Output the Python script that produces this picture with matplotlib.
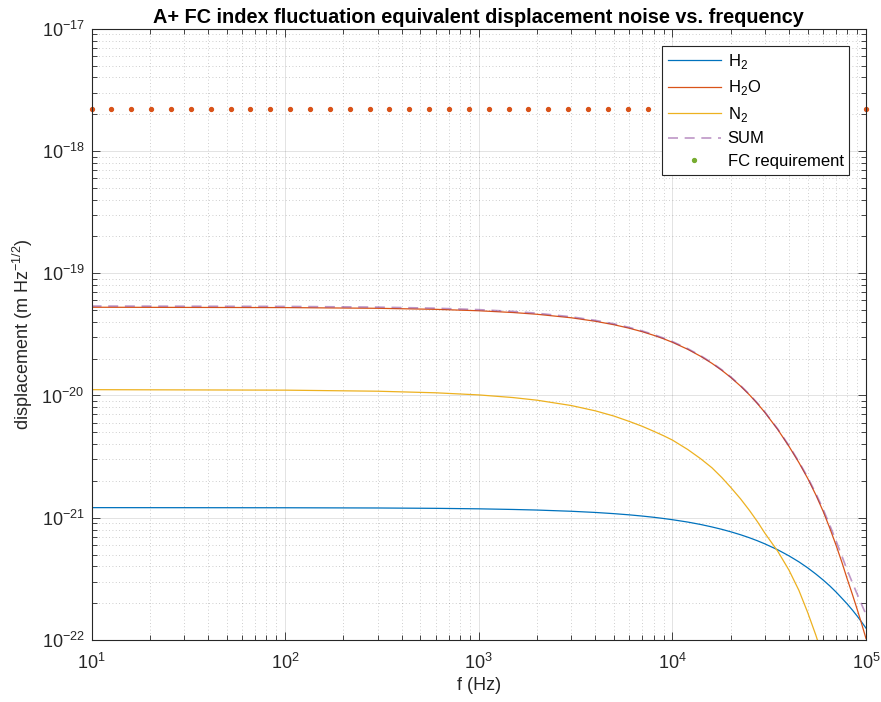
import matplotlib
matplotlib.use('Agg')
from matplotlib import pyplot as plt
from matplotlib.lines import Line2D

freq = [10, 100, 300, 600, 1e3, 1.5e3, 2e3, 3e3, 4e3, 5e3, 6e3, 7e3, 8e3, 9e3,
        1e4, 1.2e4, 1.4e4, 1.6e4, 1.8e4, 2e4, 2.25e4, 2.5e4, 2.75e4, 3e4,
        3.5e4, 4e4, 4.5e4, 5e4, 5.5e4, 6e4, 6.5e4, 7e4, 7.5e4, 8e4, 8.5e4,
        9e4, 9.5e4, 1e5]

h2 = [1.21e-21, 1.207e-21, 1.202e-21, 1.194e-21, 1.183e-21, 1.169e-21, 1.156e-21,
      1.130e-21, 1.105e-21, 1.080e-21, 1.056e-21, 1.032e-21, 1.009e-21, 9.86e-22,
      9.64e-22, 9.22e-22, 8.81e-22, 8.41e-22, 8.04e-22, 7.68e-22, 7.26e-22,
      6.86e-22, 6.48e-22, 6.12e-22, 5.47e-22, 4.88e-22, 4.36e-22, 3.89e-22,
      3.47e-22, 3.10e-22, 2.77e-22, 2.47e-22, 2.20e-22, 1.97e-22, 1.76e-22,
      1.57e-22, 1.40e-22, 1.25e-22]

h2o = [5.27e-20, 5.236e-20, 5.167e-20, 5.066e-20, 4.933e-20, 4.772e-20, 4.617e-20,
       4.323e-20, 4.047e-20, 3.789e-20, 3.547e-20, 3.321e-20, 3.109e-20, 2.910e-20,
       2.725e-20, 2.387e-20, 2.091e-20, 1.833e-20, 1.606e-20, 1.407e-20, 1.193e-20,
       1.012e-20, 8.58e-21, 7.28e-21, 5.27e-21, 3.837e-21, 2.829e-21, 2.096e-21,
       1.543e-21, 1.133e-21, 8.22e-22, 5.97e-22, 4.34e-22, 3.15e-22, 2.366e-22,
       1.784e-22, 1.351e-22, 1.027e-22]

n2 = [1.116e-20, 1.106e-20, 1.084e-20, 1.052e-20, 1.011e-20, 9.62e-21, 9.15e-21,
      8.28e-21, 7.49e-21, 6.78e-21, 6.13e-21, 5.59e-21, 5.10e-21, 4.69e-21,
      4.32e-21, 3.616e-21, 3.038e-21, 2.564e-21, 2.133e-21, 1.774e-21, 1.426e-21,
      1.148e-21, 9.28e-22, 7.50e-22, 5.32e-22, 3.73e-22, 2.55e-22, 1.675e-22,
      1.101e-22, 7.23e-23, 4.75e-23, 3.12e-23, 2.05e-23, 1.35e-23, 8.8e-24,
      5.8e-24, 3.8e-24, 2.5e-24]

total = [5.388e-20, 5.353e-20, 5.281e-20, 5.175e-20, 5.037e-20, 4.869e-20, 4.708e-20,
         4.403e-20, 4.117e-20, 3.851e-20, 3.601e-20, 3.369e-20, 3.152e-20, 2.949e-20,
         2.761e-20, 2.416e-20, 2.115e-20, 1.853e-20, 1.622e-20, 1.420e-20, 1.204e-20,
         1.021e-20, 8.65e-21, 7.34e-21, 5.32e-21, 3.886e-21, 2.874e-21, 2.138e-21,
         1.586e-21, 1.177e-21, 8.69e-22, 6.47e-22, 4.87e-22, 3.72e-22, 2.948e-22,
         2.376e-22, 1.946e-22, 1.618e-22]

# FC requirement points
req_freq = [10.0, 12.67, 16.04, 20.31, 25.72, 32.57, 41.25, 52.23, 66.14, 83.77,
            106.1, 134.3, 170.1, 215.4, 272.8, 345.5, 437.6, 554.1, 701.7, 888.6,
            1125, 1425, 1805, 2285, 2894, 3665, 4642, 5878, 7444, 9427,
            11938, 15118, 19145, 24245, 30703, 38882, 49239, 62355, 78965, 100000]
req_level = [2.2e-18] * len(req_freq)

x_ticks = [1e1, 1e2, 1e3, 1e4, 1e5]
y_ticks = [1e-22, 1e-21, 1e-20, 1e-19, 1e-18, 1e-17]

c_blue = (0.0, 0.447, 0.741)
c_orange = (0.85, 0.325, 0.098)
c_yellow = (0.929, 0.694, 0.125)
c_purple = (0.494, 0.184, 0.556)
c_green = (0.466, 0.674, 0.188)
c_axis = (0.15, 0.15, 0.15)

plt.rcParams['font.family'] = ['Liberation Sans', 'DejaVu Sans']
plt.rcParams['mathtext.fontset'] = 'custom'
plt.rcParams['mathtext.rm'] = 'Liberation Sans'

fig = plt.figure(figsize=(8.81, 7.02), dpi=100)
ax = fig.add_axes([0.1039, 0.0883, 0.8791, 0.8708])

ax.loglog(freq, h2, color=c_blue, lw=0.9)
ax.loglog(freq, h2o, color=c_orange, lw=0.9)
ax.loglog(freq, n2, color=c_yellow, lw=0.9)
ax.loglog(freq, total, color=c_purple, lw=1.2, ls=(0, (6, 4)), alpha=0.5)
ax.loglog(req_freq, req_level, ls='none', marker='o', ms=2.8,
          color=c_orange, clip_on=False)

ax.set_xlim(10, 1e5)
ax.set_ylim(1e-22, 1e-17)
ax.set_xticks(x_ticks)
ax.set_yticks(y_ticks)

ax.grid(True, which='major', color=c_axis, alpha=0.15, lw=0.6, ls='-')
ax.grid(True, which='minor', color=c_axis, alpha=0.3, lw=0.6, ls=(0, (1, 3)))
ax.tick_params(which='both', direction='in', top=True, right=True,
               colors=c_axis, labelsize=13, width=0.6)
ax.tick_params(which='major', length=6)
ax.tick_params(which='minor', length=3.5)
ax.tick_params(axis='x', pad=9)
ax.tick_params(axis='y', pad=5)
for s in ax.spines.values():
    s.set_color(c_axis)
    s.set_linewidth(0.8)

ax.set_title('A+ FC index fluctuation equivalent displacement noise vs. frequency',
             fontsize=14.3, fontweight='bold', color='black', pad=4)
ax.set_xlabel('f (Hz)', fontsize=13, color=c_axis, labelpad=3)
ax.set_ylabel('displacement (m Hz$^{-1/2}$)', fontsize=13, color=c_axis, labelpad=5)

handles = [
    Line2D([], [], color=c_blue, lw=0.9),
    Line2D([], [], color=c_orange, lw=0.9),
    Line2D([], [], color=c_yellow, lw=0.9),
    Line2D([], [], color=c_purple, lw=1.2, ls=(0, (6, 4)), alpha=0.5),
    Line2D([], [], color=c_green, ls='none', marker='o', ms=2.8),
]
labels = ['H$_2$', 'H$_2$O', 'N$_2$', 'SUM', 'FC requirement']
leg = ax.legend(handles, labels, loc='upper right', bbox_to_anchor=(0.9785, 0.9717),
                borderaxespad=0, fancybox=False, framealpha=1, edgecolor=c_axis,
                fontsize=12, handlelength=3.2, handletextpad=0.4,
                labelspacing=0.45, borderpad=0.35)
leg.get_frame().set_linewidth(0.8)

fig.savefig('out.png', dpi=100)
